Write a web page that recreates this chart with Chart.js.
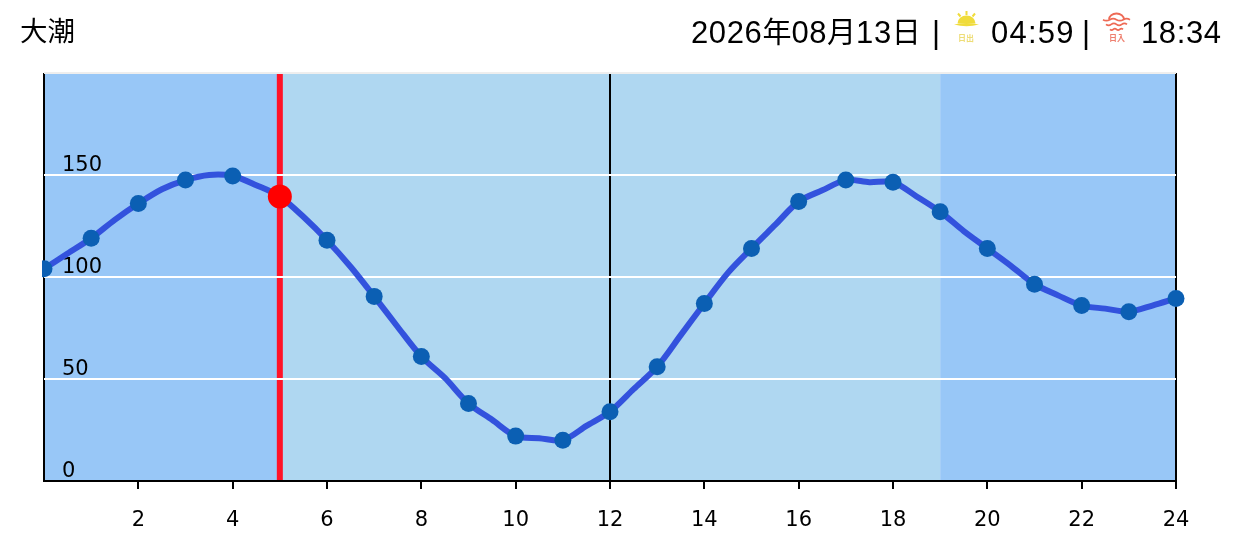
<!DOCTYPE html>
<html lang="ja">
<head>
<meta charset="utf-8">
<title>大潮</title>
<script src="https://cdn.jsdelivr.net/npm/chart.js@4/dist/chart.umd.min.js"></script>
<style>
html,body{margin:0;padding:0;background:#fff;overflow:hidden}
#wrap{position:relative;width:1241px;height:550px}
#tide{position:absolute;left:0;top:0}
.t{position:absolute;white-space:nowrap;color:#000;font-family:"Liberation Sans","Noto Sans CJK JP",sans-serif;font-size:31px;line-height:36px;top:15px}
.t .n{letter-spacing:0.6px}
.t .k{font-family:"Noto Sans CJK JP";font-size:29px;font-weight:400}
#name{font-family:"Noto Sans CJK JP";font-size:27.5px;left:20px;top:11px;font-weight:400}
.icon{position:absolute}
</style>
</head>
<body>
<div id="wrap">
  <canvas id="tide" width="1241" height="550"></canvas>
  <div class="t" id="name">大潮</div>
  <div class="t" id="date" style="left:691px;top:12px"><span class="n">2026</span><span class="k">年</span><span class="n">08</span><span class="k">月</span><span class="n">13</span><span class="k">日</span></div>
  <div class="t" style="left:932px">|</div>
  <svg class="icon" style="left:948px;top:8px" width="38" height="36" viewBox="0 0 38 36">
    <path d="M6 16.500q12.500 -3 25 0q-12.500 3.500 -25 0z" fill="#f0dc3c"/>
    <path d="M9.500 15.500a9 8 0 0 1 18 0z" fill="#f0dc3c"/>
    <path d="M18.500 3v4M10 5.500l2.500 3M27 5.500l-2.500 3" stroke="#f0dc3c" stroke-width="2" fill="none"/>
    <text x="18" y="33" text-anchor="middle" font-family="Noto Sans CJK JP" font-size="8" font-weight="700" fill="#eedd77">日出</text>
  </svg>
  <div class="t" style="left:991px"><span class="n" style="letter-spacing:1.2px">04:59</span></div>
  <div class="t" style="left:1082px">|</div>
  <svg class="icon" style="left:1097px;top:8px" width="40" height="36" viewBox="0 0 40 36">
    <path d="M12 11.500a7.500 6 0 0 1 15 0" stroke="#ee6a55" stroke-width="1.800" fill="none"/>
    <path d="M6 11.700q3.400 2 6.750 0t6.750 0t6.750 0t6.750 0M9 16.400q2.600 2 5.250 0t5.250 0t5.250 0t5.250 0M13 21.400q1.600 1.500 3.250 0t3.250 0t3.250 0t3.250 0" stroke="#ee6a55" stroke-width="1.700" fill="none"/>
    <text x="20" y="33" text-anchor="middle" font-family="Noto Sans CJK JP" font-size="8" font-weight="700" fill="#ee8070">日入</text>
  </svg>
  <div class="t" style="left:1141px"><span class="n">18:34</span></div>
</div>
<script>
const hourMarks = [0,1,2,3,4,5,6,7,8,9,10,11,12,13,14,15,16,17,18,19,20,21,22,23,24];
const hourLevels = [104,119,136,147.5,149.5,139.5,118,90.5,61,38,22,20,34,56,87,114,137,147.5,146.5,132,114,96.5,86,83,89.5];
const lineHours = [0,0.5,1,1.5,2,2.5,3,3.5,4,4.5,5,5.5,6,6.5,7,7.5,8,8.5,9,9.5,10,10.5,11,11.5,12,12.5,13,13.5,14,14.5,15,15.5,16,16.5,17,17.5,18,18.5,19,19.5,20,20.5,21,21.5,22,22.5,23,23.5,24];
const lineLevels = [104,111.5,119,128,136,143,147.5,150,149.5,145,139.5,129.5,118,105,90.5,75.5,61,50.5,38,30,22,21,20,27,34,45,56,71.5,87,102,114,125.5,137,142.5,147.5,146.5,146.5,139.5,132,122.5,114,105.5,96.5,91,86,84.5,83,86,89.5];
const nowHour = [5];
const nowLevel = [139.5];
const dayBands = [[0,5,'#98c7f7'],[5,19,'#afd7f1'],[19,24,'#98c7f7']];
const yTickValues = [0,50,100,150];

const toPoints = (xs, ys) => xs.map((x, i) => ({x, y: ys[i]}));

const backdrop = {
  id: 'backdrop',
  beforeDraw(chart) {
    const {ctx, chartArea: a, scales: {x}} = chart;
    ctx.save();
    dayBands.forEach(([from, to, color]) => {
      ctx.fillStyle = color;
      const l = x.getPixelForValue(from), r = x.getPixelForValue(to);
      ctx.fillRect(l, a.top, r - l, a.bottom - a.top);
    });
    ctx.fillStyle = '#ff1228';
    ctx.fillRect(x.getPixelForValue(nowHour[0]) - 3, a.top, 6, a.bottom - a.top);
    ctx.restore();
  }
};

new Chart(document.getElementById('tide'), {
  type: 'line',
  plugins: [backdrop],
  data: {
    datasets: [
      {data: toPoints(nowHour, nowLevel), showLine: false, pointRadius: 12, pointHoverRadius: 12,
       pointBackgroundColor: '#ff0000', pointBorderWidth: 0, clip: false},
      {data: toPoints(hourMarks, hourLevels), showLine: false, pointRadius: 8.5, pointHoverRadius: 8.5,
       pointBackgroundColor: '#0b5fb3', pointBorderWidth: 0, clip: {left: 2, right: 12, top: 12, bottom: 12}},
      {data: toPoints(lineHours, lineLevels), borderColor: '#3352dd', borderWidth: 6, tension: 0.3,
       pointRadius: 0, fill: false}
    ]
  },
  options: {
    responsive: false,
    animation: false,
    events: [],
    layout: {padding: {left: 44, right: 65, top: 73, bottom: 0}},
    plugins: {legend: {display: false}, tooltip: {enabled: false}, title: {display: false}},
    scales: {
      x: {
        type: 'linear', min: 0, max: 24,
        afterFit: s => { s.height = 69; },
        border: {display: true, color: '#000', width: 2},
        grid: {
          lineWidth: 2, tickLength: 8,
          color: c => [0, 12, 24].includes(c.tick.value) ? '#000' : 'transparent',
          tickColor: c => c.tick.value === 0 ? 'transparent' : '#000'
        },
        ticks: {
          stepSize: 2, maxRotation: 0, autoSkip: false, padding: 19, color: '#000',
          font: {family: 'DejaVu Sans', size: 21},
          callback: v => v === 0 ? '' : String(v)
        }
      },
      y: {
        min: 0, max: 200,
        afterFit: s => { s.width = 0; },
        border: {display: false},
        grid: {
          lineWidth: 2, drawTicks: false,
          color: c => c.tick.value === 0 ? '#000' : (c.tick.value === 200 ? '#eeeeee' : '#ffffff')
        },
        ticks: {
          stepSize: 50, mirror: true, padding: 18, labelOffset: -9, color: '#000',
          font: {family: 'DejaVu Sans', size: 21},
          callback: v => yTickValues.includes(v) ? String(v) : ''
        }
      }
    }
  }
});
</script>
</body>
</html>
